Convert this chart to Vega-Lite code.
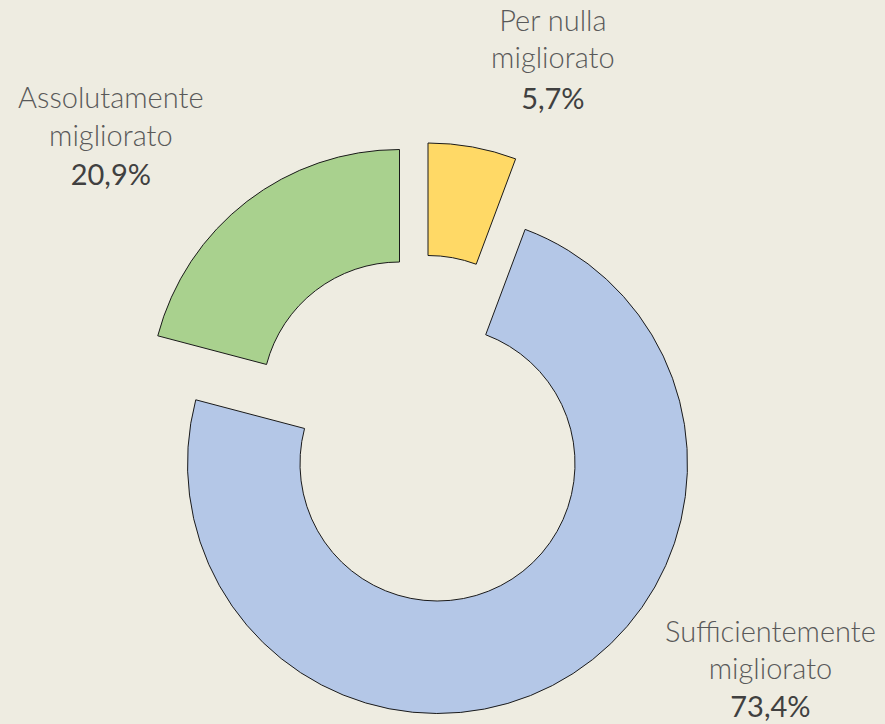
{
  "$schema": "https://vega.github.io/schema/vega-lite/v6.json",
  "autosize": {"type": "none"},
  "width": 875,
  "height": 519,
  "padding": {"left": 0, "top": 204, "right": 10, "bottom": 1},
  "background": "#EEECE1",
  "config": {"view": {"stroke": null}},
  "data": {
    "values": [
      {"cat": "Per nulla migliorato", "name": "Per nulla\nmigliorato", "pct": 5.7, "pctText": "5,7%", "ord": 1},
      {"cat": "Sufficientemente migliorato", "name": "Sufficientemente\nmigliorato", "pct": 73.4, "pctText": "73,4%", "ord": 2},
      {"cat": "Assolutamente migliorato", "name": "Assolutamente\nmigliorato", "pct": 20.9, "pctText": "20,9%", "ord": 3}
    ]
  },
  "encoding": {
    "theta": {"field": "pct", "type": "quantitative", "stack": true, "scale": {"domain": [0, 100]}},
    "order": {"field": "ord", "type": "quantitative"}
  },
  "layer": [
    {
      "mark": {"type": "arc", "outerRadius": 250, "innerRadius": 137.5, "stroke": "#1a1a1a", "strokeWidth": 1},
      "encoding": {
        "color": {"field": "cat", "type": "nominal", "legend": null,
          "scale": {"domain": ["Per nulla migliorato", "Sufficientemente migliorato", "Assolutamente migliorato"], "range": ["#FFD966", "#B4C7E7", "#A9D18E"]}},
        "opacity": {"condition": {"test": "datum.ord === 2", "value": 1}, "value": 0}
      }
    },
    {
      "mark": {"type": "arc", "outerRadius": 250, "innerRadius": 137.5, "stroke": "#1a1a1a", "strokeWidth": 1, "xOffset": -9.5, "yOffset": -70.5},
      "encoding": {
        "color": {"field": "cat", "type": "nominal", "legend": null},
        "opacity": {"condition": {"test": "datum.ord === 1", "value": 1}, "value": 0}
      }
    },
    {
      "mark": {"type": "arc", "outerRadius": 250, "innerRadius": 137.5, "stroke": "#1a1a1a", "strokeWidth": 1, "xOffset": -38, "yOffset": -64},
      "encoding": {
        "color": {"field": "cat", "type": "nominal", "legend": null},
        "opacity": {"condition": {"test": "datum.ord === 3", "value": 1}, "value": 0}
      }
    },
    {
      "mark": {"type": "text", "radius": 440, "dx": 37, "dy": 0, "align": "center", "baseline": "alphabetic", "font": "Lato", "fontWeight": 300, "fontSize": 29, "lineBreak": "\n", "lineHeight": 37.5, "color": "#595959"},
      "encoding": {
        "text": {"field": "name"},
        "opacity": {"condition": {"test": "datum.ord === 1", "value": 1}, "value": 0}
      }
    },
    {
      "mark": {"type": "text", "radius": 440, "dx": 37, "dy": 78, "align": "center", "baseline": "alphabetic", "font": "Lato", "fontWeight": 400, "fontSize": 29, "color": "#404040"},
      "encoding": {
        "text": {"field": "pctText"},
        "opacity": {"condition": {"test": "datum.ord === 1", "value": 1}, "value": 0}
      }
    },
    {
      "mark": {"type": "text", "radius": 311, "dx": 190, "dy": -98, "align": "center", "baseline": "alphabetic", "font": "Lato", "fontWeight": 300, "fontSize": 29, "lineBreak": "\n", "lineHeight": 37.5, "color": "#595959"},
      "encoding": {
        "text": {"field": "name"},
        "opacity": {"condition": {"test": "datum.ord === 2", "value": 1}, "value": 0}
      }
    },
    {
      "mark": {"type": "text", "radius": 311, "dx": 190, "dy": -23, "align": "center", "baseline": "alphabetic", "font": "Lato", "fontWeight": 400, "fontSize": 29, "color": "#404040"},
      "encoding": {
        "text": {"field": "pctText"},
        "opacity": {"condition": {"test": "datum.ord === 2", "value": 1}, "value": 0}
      }
    },
    {
      "mark": {"type": "text", "radius": 450, "dx": -52, "dy": 1, "align": "center", "baseline": "alphabetic", "font": "Lato", "fontWeight": 300, "fontSize": 29, "lineBreak": "\n", "lineHeight": 37.5, "color": "#595959"},
      "encoding": {
        "text": {"field": "name"},
        "opacity": {"condition": {"test": "datum.ord === 3", "value": 1}, "value": 0}
      }
    },
    {
      "mark": {"type": "text", "radius": 450, "dx": -52, "dy": 78, "align": "center", "baseline": "alphabetic", "font": "Lato", "fontWeight": 400, "fontSize": 29, "color": "#404040"},
      "encoding": {
        "text": {"field": "pctText"},
        "opacity": {"condition": {"test": "datum.ord === 3", "value": 1}, "value": 0}
      }
    }
  ]
}
